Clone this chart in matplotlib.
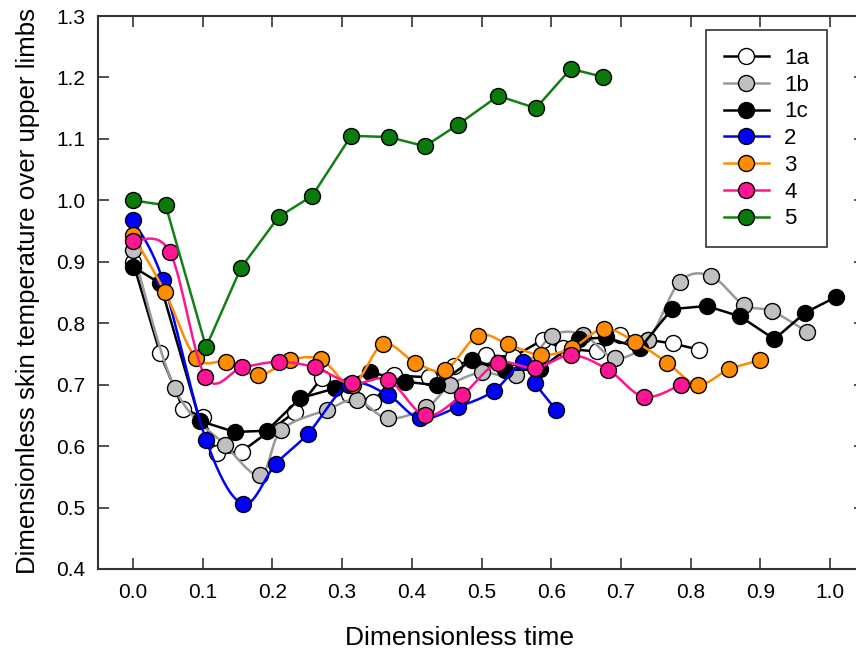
import numpy as np
import matplotlib
matplotlib.use("Agg")
import matplotlib.pyplot as plt
from matplotlib.lines import Line2D

plt.rcParams['font.family'] = ['Liberation Sans', 'DejaVu Sans']

# data
x_1a = [0, 0.039, 0.072, 0.101, 0.120, 0.156, 0.232, 0.271, 0.31, 0.345, 0.375, 0.424, 0.46, 0.507, 0.545,
        0.588, 0.617, 0.665, 0.698, 0.739, 0.774, 0.812]
y_1a = [0.90, 0.751, 0.661, 0.647, 0.588, 0.591, 0.655, 0.711, 0.685, 0.672, 0.715, 0.712, 0.73, 0.748, 0.745,
        0.773, 0.759, 0.754, 0.781, 0.773, 0.767, 0.757]

x_1b = [0, 0.06, 0.132, 0.183, 0.213, 0.278, 0.321, 0.366, 0.421, 0.455, 0.50, 0.550, 0.601, 0.646, 0.692,
        0.739, 0.784, 0.829, 0.876, 0.916, 0.967]
y_1b = [0.919, 0.694, 0.602, 0.553, 0.626, 0.659, 0.675, 0.645, 0.663, 0.699, 0.72, 0.716, 0.779, 0.781, 0.743,
        0.772, 0.867, 0.877, 0.830, 0.820, 0.786]

x_1c = [0, 0.039, 0.096, 0.146, 0.192, 0.240, 0.290, 0.340, 0.390, 0.436, 0.486, 0.534, 0.584, 0.640, 0.679,
        0.727, 0.773, 0.823, 0.871, 0.920, 0.964, 1.009]
y_1c = [0.892, 0.865, 0.641, 0.623, 0.625, 0.678, 0.694, 0.721, 0.705, 0.699, 0.740, 0.724, 0.725, 0.774, 0.777,
        0.759, 0.823, 0.828, 0.811, 0.774, 0.817, 0.843]

x_2 = [0, 0.043, 0.105, 0.158, 0.205, 0.251, 0.31, 0.366, 0.412, 0.467, 0.518, 0.560, 0.577, 0.607]
y_2 = [0.968, 0.870, 0.610, 0.506, 0.571, 0.620, 0.70, 0.683, 0.645, 0.664, 0.690, 0.737, 0.702, 0.659]

x_3 = [0, 0.046, 0.090, 0.134, 0.180, 0.225, 0.270, 0.315, 0.359, 0.405, 0.448, 0.495, 0.538, 0.585, 0.63,
       0.675, 0.720, 0.766, 0.810, 0.855, 0.900]
y_3 = [0.943, 0.851, 0.744, 0.737, 0.715, 0.740, 0.741, 0.70, 0.766, 0.736, 0.724, 0.780, 0.766, 0.748, 0.76,
       0.791, 0.770, 0.736, 0.700, 0.725, 0.740]

x_4 = [0, 0.053, 0.104, 0.157, 0.209, 0.261, 0.314, 0.366, 0.419, 0.472, 0.523, 0.577, 0.629, 0.682, 0.733, 0.786]
y_4 = [0.934, 0.916, 0.713, 0.728, 0.737, 0.728, 0.702, 0.708, 0.650, 0.683, 0.735, 0.727, 0.748, 0.724, 0.680, 0.700]

x_5 = [0, 0.047, 0.105, 0.155, 0.209, 0.257, 0.313, 0.367, 0.419, 0.466, 0.524, 0.578, 0.628, 0.674]
y_5 = [1.0, 0.992, 0.761, 0.890, 0.973, 1.007, 1.105, 1.103, 1.088, 1.123, 1.170, 1.150, 1.214, 1.201]


def smooth(xs, ys, n=20):
    # catmull-rom through the points
    p = np.column_stack([xs, ys]).astype(float)
    p = np.vstack([p[0], p, p[-1]])
    out = []
    t = np.linspace(0, 1, n, endpoint=False)[:, None]
    for i in range(1, len(p) - 2):
        p0, p1, p2, p3 = p[i - 1], p[i], p[i + 1], p[i + 2]
        seg = 0.5 * ((2 * p1) + (-p0 + p2) * t + (2 * p0 - 5 * p1 + 4 * p2 - p3) * t ** 2
                     + (-p0 + 3 * p1 - 3 * p2 + p3) * t ** 3)
        out.append(seg)
    out.append(p[-2][None, :])
    out = np.vstack(out)
    return out[:, 0], out[:, 1]


series = [
    ("1a", x_1a, y_1a, "black", "white", False),
    ("1b", x_1b, y_1b, "#999999", "#c0c0c0", True),
    ("1c", x_1c, y_1c, "black", "black", False),
    ("2", x_2, y_2, "#0000ff", "#0000ff", True),
    ("3", x_3, y_3, "#ff8c00", "#ff8c00", True),
    ("4", x_4, y_4, "#ff1493", "#ff1493", True),
    ("5", x_5, y_5, "#138013", "#0a7a0a", False),
]

fig = plt.figure(figsize=(8.56, 6.55), dpi=100)
ax = fig.add_axes([98 / 856, 86 / 655, 767 / 856, 553 / 655])

handles = []
for z, (name, xs, ys, lc, fc, sm) in enumerate(series):
    if sm:
        sx, sy = smooth(xs, ys)
    else:
        sx, sy = xs, ys
    ax.plot(sx, sy, color=lc, lw=1.8, zorder=2 * z + 1)
    ax.plot(xs, ys, ls="none", marker="o", ms=11.5, mfc=fc, mec="black", mew=1.0, zorder=2 * z + 2)
    handles.append(Line2D([], [], color=lc, lw=1.8, marker="o", ms=11.5, mfc=fc, mec="black", mew=1.0))

ax.set_xlim(-0.05, 1.05)
ax.set_ylim(0.4, 1.3)
ax.set_xticks(np.arange(0, 1.01, 0.1))
ax.set_yticks(np.arange(0.4, 1.31, 0.1))
ax.set_xticklabels([f"{v:.1f}" for v in np.arange(0, 1.01, 0.1)])
ax.set_yticklabels([f"{v:.1f}" for v in np.arange(0.4, 1.31, 0.1)])
ax.tick_params(direction="in", length=8, width=1.2, labelsize=15, top=True, right=True, color="#333333")
ax.tick_params(axis="x", pad=10)
ax.tick_params(axis="y", pad=9)
for s in ax.spines.values():
    s.set_linewidth(1.5)
    s.set_color("#333333")

ax.set_xlabel("Dimensionless time", fontsize=19)
ax.xaxis.set_label_coords((459 - 98) / 767, -(626 - 569) / 553)
ax.set_ylabel("Dimensionless skin temperature over upper limbs", fontsize=18.6)
ax.yaxis.set_label_coords(-(98 - 40) / 767, (569 - 291) / 553)

leg = ax.legend(handles, [s[0] for s in series], loc="upper right",
                bbox_to_anchor=((827 - 98) / 767, (569 - 30) / 553), borderaxespad=0,
                fontsize=16, frameon=True, fancybox=False, edgecolor="black", handlelength=2.0,
                labelspacing=0.26, borderpad=0.8, handletextpad=0.7)
leg.get_frame().set_linewidth(1.2)

fig.savefig("out.png", dpi=100)
